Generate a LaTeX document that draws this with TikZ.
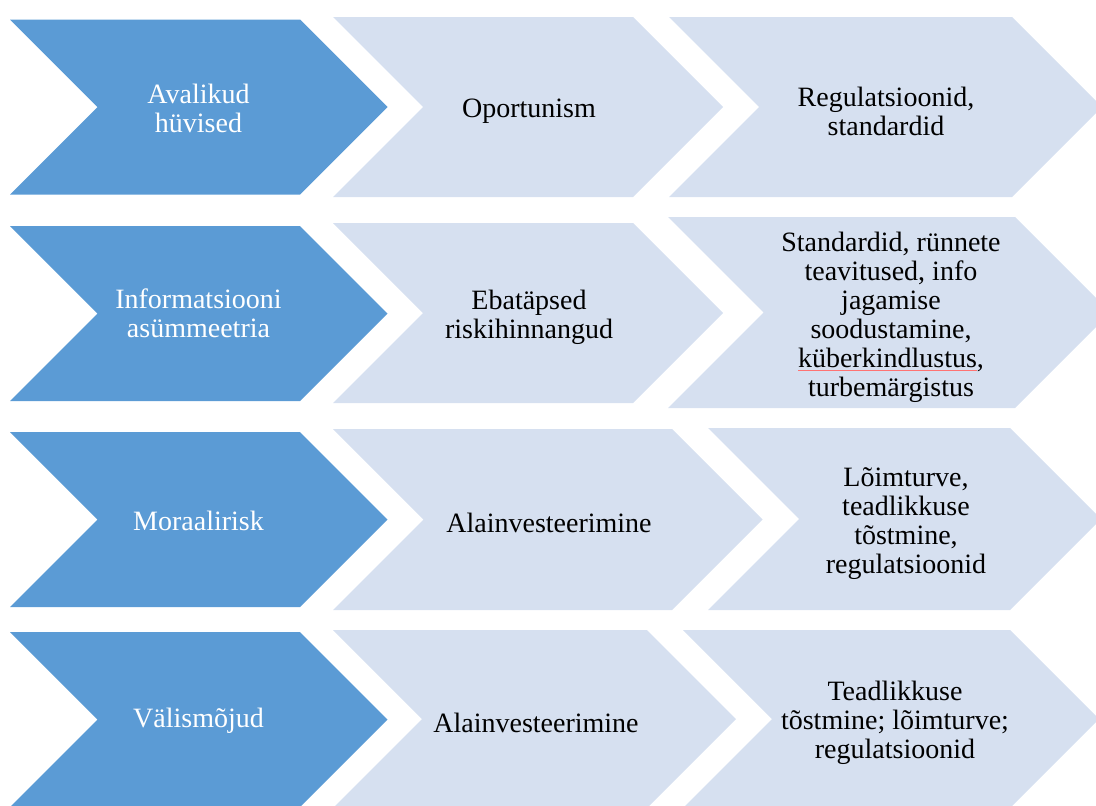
\documentclass[tikz,border=0pt]{standalone}
\usepackage{fontspec}
\setmainfont{Liberation Serif}
\newfontfamily\lserif{Liberation Serif}
\definecolor{darkb}{HTML}{5B9BD5}
\definecolor{lightb}{HTML}{D6E0F0}
\newcommand\mychev[5]{% style, x left, x top-right, y top, y bottom
  \fill[#1] (#2,#4) -- (#3,#4) -- ({#3+(#5-#4)/2},{(#4+#5)/2}) -- (#3,#5) -- (#2,#5) -- ({#2+(#5-#4)/2},{(#4+#5)/2}) -- cycle;}
\newcommand\spellmark[1]{\setbox0\hbox{#1}\rlap{\textcolor{red!55}{\rule[-3.5pt]{\wd0}{1pt}}}#1}
\begin{document}
\begin{tikzpicture}[x=1pt,y=-1pt,
  darkchev/.style={fill=darkb},
  lightchev/.style={fill=lightb},
  lbl/.style={font=\lserif\fontsize{28}{29}\selectfont, align=center, inner sep=0pt, text=black},
  dlbl/.style={lbl, text=white}]
\useasboundingbox (0,0) rectangle (1096,806);
\clip (0,0) rectangle (1096,806);
% row 1
\mychev{darkchev}{10}{300}{19.5}{194.5}
\mychev{lightchev}{333}{633}{17}{197}
\mychev{lightchev}{669}{1012}{17}{197}
% row 2
\mychev{darkchev}{10}{300}{226}{401}
\mychev{lightchev}{333}{633}{223}{403}
\mychev{lightchev}{668}{1015}{217}{408}
% row 3
\mychev{darkchev}{10}{300}{432}{607}
\mychev{lightchev}{333}{672}{429}{610}
\mychev{lightchev}{708}{1010}{428}{610}
% row 4
\mychev{darkchev}{10}{300}{632}{807}
\mychev{lightchev}{333}{647}{630}{808}
\mychev{lightchev}{683}{1010}{630}{808}
% labels
\node[dlbl] (a1) at (198.5,108) {Avalikud\\hüvised};
\node[lbl] (b1) at (529,111) {Oportunism};
\node[lbl] (c1) at (886,111) {Regulatsioonid,\\standardid};
\node[dlbl] (a2) at (198.5,313) {Informatsiooni\\asümmeetria};
\node[lbl] (b2) at (529,317) {Ebatäpsed\\riskihinnangud};
\node[lbl] (c2) at (891,317) {Standardid, rünnete\\teavitused, info\\jagamise\\soodustamine,\\\spellmark{küberkindlustus},\\turbemärgistus};
\node[dlbl] (a3) at (198.5,521) {Moraalirisk};
\node[lbl] (b3) at (549,523) {Alainvesteerimine};
\node[lbl] (c3) at (906,524) {Lõimturve,\\teadlikkuse\\tõstmine,\\regulatsioonid};
\node[dlbl] (a4) at (198.5,721) {Välismõjud};
\node[lbl] (b4) at (536,723) {Alainvesteerimine};
\node[lbl] (c4) at (895,723) {Teadlikkuse\\tõstmine; lõimturve;\\regulatsioonid};
\end{tikzpicture}
\end{document}
